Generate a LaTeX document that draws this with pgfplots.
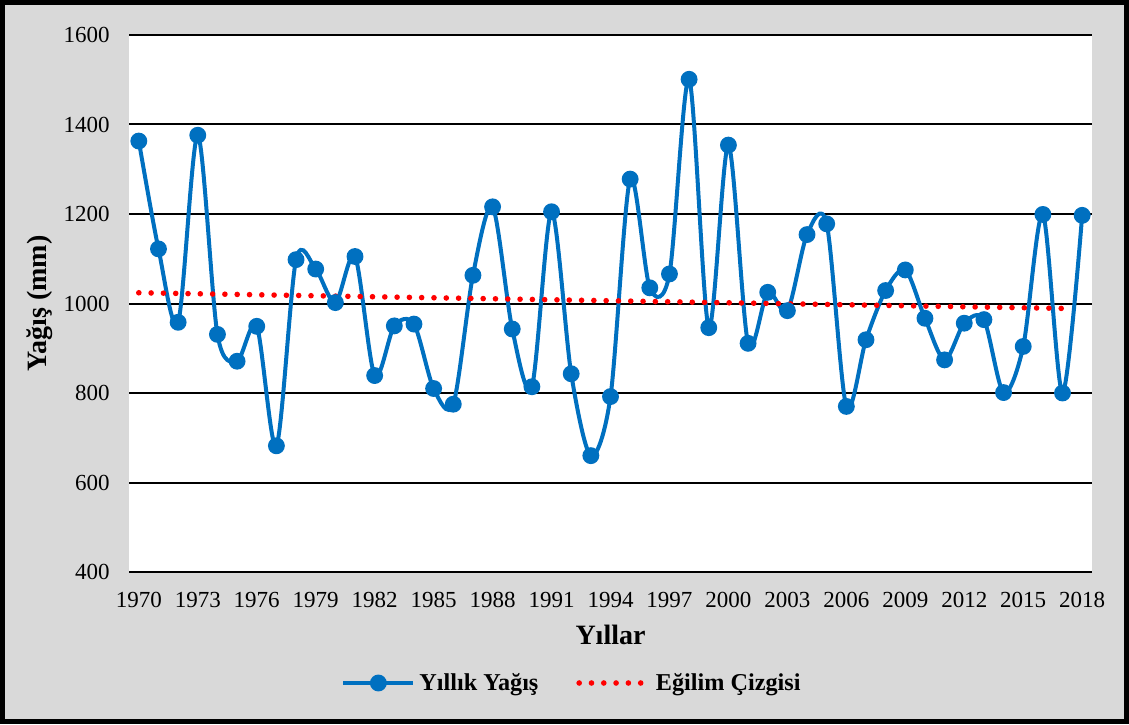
\documentclass[border=0pt]{standalone}
\usepackage{pgfplots}
\pgfplotsset{compat=1.18}
\usepackage{fontspec}
\setmainfont{Liberation Serif}
\definecolor{bgray}{HTML}{D9D9D9}
\definecolor{xblue}{HTML}{0070C0}
\begin{document}
\begin{tikzpicture}[x=1pt,y=1pt]
\fill[bgray] (0,0) rectangle (564.5,362);
\begin{axis}[
 at={(64.5pt,76pt)}, anchor=south west,
 scale only axis, width=481.5pt, height=268.5pt,
 xmin=1969.5, xmax=2018.5, ymin=400, ymax=1600,
 xtick={1970,1973,...,2018}, ytick={400,600,...,1600},
 axis line style={draw=none}, major tick length=0pt,
 ymajorgrids, grid style={black, line width=1pt},
 axis background/.style={fill=white},
 /pgf/number format/assume math mode=true,
 /pgf/number format/1000 sep={},
 ticklabel style={font=\fontsize{11.5}{13}\selectfont},
 yticklabel style={inner sep=0pt, anchor=east, xshift=-9.5pt},
 xticklabel style={inner sep=0pt, anchor=north, yshift=-10pt},
 xlabel={Yıllar}, ylabel={Yağış (mm)},
 label style={font=\fontsize{14}{16}\selectfont\bfseries},
 xlabel style={at={(axis description cs:0.5,-0.1173)}, anchor=center},
 ylabel style={at={(axis description cs:-0.0924,0.5)}, anchor=center},
 legend columns=2,
 legend style={at={(axis description cs:0.461,-0.2067)}, anchor=center, draw=none, fill=none,
   font=\fontsize{12.1}{14}\selectfont\bfseries,
   /tikz/every even column/.append style={column sep=17pt}},
 legend image code/.code={\draw[mark repeat=2,mark phase=2,#1] plot coordinates {(0pt,0pt) (17.5pt,0pt) (35pt,0pt)};},
]
\addplot[xblue, line width=2pt, smooth, tension=0.5, mark=*, mark size=3.2pt, mark options={solid, fill=xblue, draw=xblue}] table {
x y
1970 1363
1971 1122
1972 958
1973 1376
1974 931
1975 871
1976 949
1977 682
1978 1098
1979 1077
1980 1002
1981 1105
1982 839
1983 950
1984 954
1985 810
1986 775
1987 1063
1988 1216
1989 943
1990 814
1991 1205
1992 843
1993 660
1994 792
1995 1278
1996 1035
1997 1066
1998 1501
1999 946
2000 1354
2001 911
2002 1025
2003 984
2004 1154
2005 1178
2006 770
2007 919
2008 1029
2009 1075
2010 967
2011 874
2012 956
2013 964
2014 801
2015 904
2016 1199
2017 800
2018 1197
};
\addlegendentry{Yıllık Yağış}
\addplot[red, line width=2.8pt, line cap=round, dash pattern=on 0pt off 6.15pt] table {
x y
1970 1024
2017 989
};
\addlegendentry{Eğilim Çizgisi}
\end{axis}
\draw[line width=2.5pt] (1.25,1.25) rectangle (563.25,360.75);
\end{tikzpicture}
\end{document}
